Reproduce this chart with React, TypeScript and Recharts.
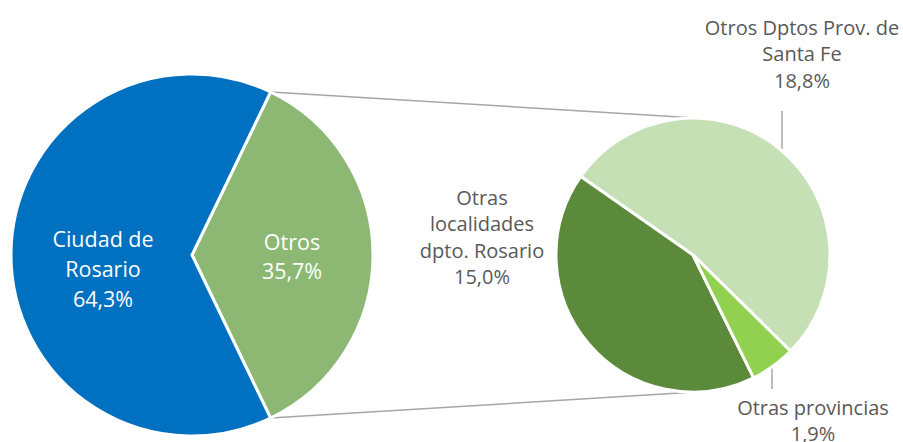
import React from "react";
import { PieChart, Pie, Cell } from "recharts";

// main pie
const mainNames = ["Otros", "Ciudad de Rosario"];
const mainValues = [35.7, 64.3];
const mainLabels = [["Otros", "35,7%"], ["Ciudad de", "Rosario", "64,3%"]];

// breakdown of "Otros"
const subNames = ["Otros Dptos Prov. de Santa Fe", "Otras localidades dpto. Rosario", "Otras provincias"];
const subValues = [18.8, 15.0, 1.9];
const subLabels = [
    ["Otros Dptos Prov. de", "Santa Fe", "18,8%"],
    ["Otras", "localidades", "dpto. Rosario", "15,0%"],
    ["Otras provincias", "1,9%"],
];

const mainColors = ["#8CB874", "#0070C0"];
const subColors = ["#C5E0B4", "#5A8A3A", "#92D050"];

const W = 903;
const H = 442;
const FONT = "'Open Sans', sans-serif";

const M = { cx: 192, cy: 255, r: 181 };
const S = { cx: 693, cy: 255, r: 137 };

const mainData = mainNames.map((name, i) => ({ name, value: mainValues[i] }));
const subData = subNames.map((name, i) => ({ name, value: subValues[i] }));

const otrosSpan = (mainValues[0] / (mainValues[0] + mainValues[1])) * 360;
const mainStart = -otrosSpan / 2;
// first sub slice ends at ~145deg
const subSpan0 = (subValues[0] / subValues.reduce((a, b) => a + b, 0)) * 360;
const subStart = 145 - subSpan0;

const RAD = Math.PI / 180;

// label placement (offsets from pie centre)
const mainLabelPos = [
    { dx: 100, dy: -14, lh: 29 },
    { dx: -89, dy: -17, lh: 30 },
];
const subLabelPos = [
    { dx: 109, dy: -228, lh: 26.5 },
    { dx: -211, dy: -58, lh: 26.5 },
    { dx: 120, dy: 152, lh: 26 },
];

const renderMainLabel = (props: any) => {
    const { cx, cy, index } = props;
    const p = mainLabelPos[index];
    return (
        <text x={cx + p.dx} y={cy + p.dy} fill="#fff" textAnchor="middle" fontSize={21.5} fontFamily={FONT}>
            {mainLabels[index].map((t, i) => (
                <tspan key={i} x={cx + p.dx} y={cy + p.dy + i * p.lh} dominantBaseline="central">
                    {t}
                </tspan>
            ))}
        </text>
    );
};

const renderSubLabel = (props: any) => {
    const { cx, cy, index } = props;
    const p = subLabelPos[index];
    return (
        <text x={cx + p.dx} y={cy + p.dy} fill="#595959" textAnchor="middle" fontSize={20} fontFamily={FONT}>
            {subLabels[index].map((t, i) => (
                <tspan key={i} x={cx + p.dx} y={cy + p.dy + i * p.lh} dominantBaseline="central">
                    {t}
                </tspan>
            ))}
        </text>
    );
};

export default function App() {
    const a = mainStart + otrosSpan;
    const top = { x: M.cx + M.r * Math.cos(a * RAD), y: M.cy - M.r * Math.sin(a * RAD) };
    const bot = { x: M.cx + M.r * Math.cos(-a * RAD), y: M.cy - M.r * Math.sin(-a * RAD) };

    return (
        <div style={{ position: "absolute", left: 0, top: 0, width: W, height: H, background: "#fff" }}>
            <svg width={W} height={H} style={{ position: "absolute", left: 0, top: 0 }}>
                <line x1={top.x} y1={top.y} x2={S.cx + 3} y2={S.cy - S.r} stroke="#A6A6A6" strokeWidth={1.5} />
                <line x1={bot.x} y1={bot.y} x2={S.cx + 3} y2={S.cy + S.r} stroke="#A6A6A6" strokeWidth={1.5} />
                <line x1={782} y1={111} x2={782} y2={149} stroke="#A6A6A6" strokeWidth={1.5} />
                <line x1={772} y1={365} x2={772} y2={389} stroke="#A6A6A6" strokeWidth={1.5} />
            </svg>
            <div style={{ position: "absolute", left: 0, top: 0 }}>
                <PieChart width={W} height={H} margin={{ top: 0, right: 0, bottom: 0, left: 0 }}>
                    <Pie
                        data={mainData}
                        dataKey="value"
                        cx={M.cx}
                        cy={M.cy}
                        outerRadius={M.r}
                        startAngle={mainStart}
                        endAngle={mainStart + 360}
                        stroke="#fff"
                        strokeWidth={3}
                        label={renderMainLabel}
                        labelLine={false}
                        isAnimationActive={false}
                    >
                        {mainData.map((d, i) => (
                            <Cell key={d.name} fill={mainColors[i]} />
                        ))}
                    </Pie>
                    <Pie
                        data={subData}
                        dataKey="value"
                        cx={S.cx}
                        cy={S.cy}
                        outerRadius={S.r}
                        startAngle={subStart}
                        endAngle={subStart + 360}
                        stroke="#fff"
                        strokeWidth={3}
                        label={renderSubLabel}
                        labelLine={false}
                        isAnimationActive={false}
                    >
                        {subData.map((d, i) => (
                            <Cell key={d.name} fill={subColors[i]} />
                        ))}
                    </Pie>
                </PieChart>
            </div>
        </div>
    );
}
